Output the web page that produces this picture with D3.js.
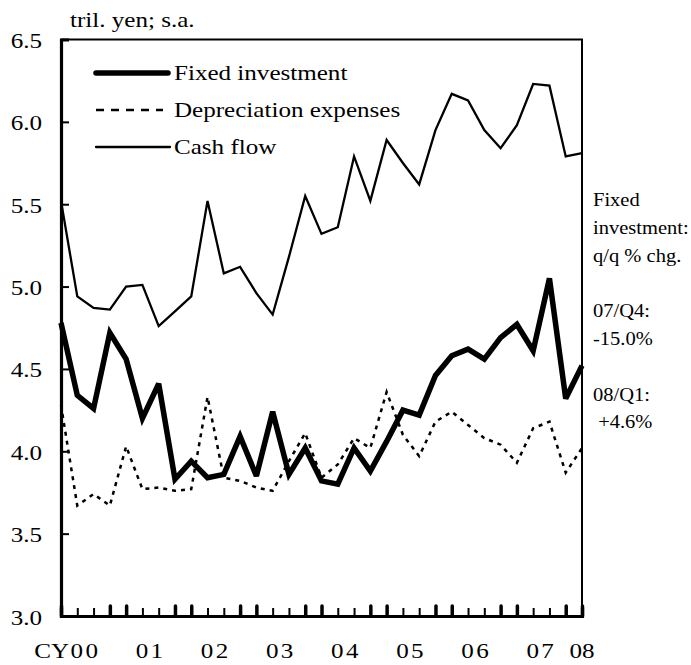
<!DOCTYPE html>
<html>
<head>
<meta charset="utf-8">
<title>Fixed investment, depreciation and cash flow</title>
<script src="https://d3js.org/d3.v7.min.js"></script>
<style>
  body { margin: 0; background: #fff; }
  text { font-family: "Liberation Serif", "Times New Roman", serif; fill: #000; }
</style>
</head>
<body>
<svg id="chart" width="691" height="665"></svg>
<script>
// values (tril. yen, s.a.), 2000/Q1 .. 2008/Q1
var yearLabels = ["00", "01", "02", "03", "04", "05", "06", "07", "08"]
var quarterNames = ["Q1", "Q2", "Q3", "Q4"]
var fixedInvestment = [4.78, 4.34, 4.26, 4.72, 4.56, 4.20, 4.41, 3.83,
                       3.94, 3.84, 3.86, 4.09, 3.85, 4.24, 3.86, 4.02,
                       3.82, 3.80, 4.02, 3.88, 4.06, 4.25, 4.22, 4.46,
                       4.58, 4.62, 4.56, 4.69, 4.77, 4.61, 5.05, 4.32,
                       4.52]
var depreciation = [4.28, 3.67, 3.74, 3.67, 4.03, 3.77, 3.78, 3.76,
                    3.77, 4.33, 3.84, 3.82, 3.78, 3.76, 3.94, 4.11,
                    3.84, 3.92, 4.08, 4.02, 4.36, 4.10, 3.97, 4.18,
                    4.24, 4.16, 4.08, 4.04, 3.93, 4.14, 4.18, 3.87,
                    4.02]
var cashFlow = [5.52, 4.94, 4.87, 4.86, 5.00, 5.01, 4.76, 4.85,
                4.94, 5.52, 5.08, 5.12, 4.96, 4.83, 5.18, 5.55,
                5.32, 5.36, 5.79, 5.52, 5.89, 5.75, 5.62, 5.95,
                6.17, 6.13, 5.95, 5.84, 5.98, 6.23, 6.22, 5.79,
                5.81]
var yTicks = [3.0, 3.5, 4.0, 4.5, 5.0, 5.5, 6.0, 6.5]
var noteLines = ["Fixed", "investment:", "q/q % chg.", "", "07/Q4:", "-15.0%", "", "08/Q1:", " +4.6%"]

// quarter categories: 00Q1 ... 07Q4, 08Q1
var quarters = []
yearLabels.slice(0, 8).forEach(function(yr) {
  quarterNames.forEach(function(q) { quarters.push(yr + q) })
})
quarters.push("08Q1")

var svg = d3.select("#chart")
var plotLeft = 61, plotRight = 582, plotTop = 39.5, plotBottom = 616
var stretch = 1.14   // the reference type is a bit wide

var x = d3.scalePoint().domain(quarters).range([plotLeft, plotRight])
var y = d3.scaleLinear().domain([3, 6.5]).range([plotBottom, plotTop])

// little helper for wide serif text
function label(px, py, s, size, anchor) {
  return svg.append("text")
    .attr("transform", "translate(" + px + "," + py + ") scale(" + stretch + ",1)")
    .attr("text-anchor", anchor || "start")
    .style("font-size", size + "px")
    .text(s)
}

// frame: thin top and right, heavy left and bottom
svg.append("path")
  .attr("d", "M" + plotLeft + "," + plotTop + "H" + plotRight + "V" + plotBottom)
  .attr("fill", "none").attr("stroke", "#000").attr("stroke-width", 2)

// y axis, ticks pointing inward
var yAxis = svg.append("g")
  .attr("transform", "translate(" + plotLeft + ",0)")
  .call(d3.axisLeft(y).tickValues(yTicks).tickSize(-8).tickFormat(d3.format(".1f")))
yAxis.select(".domain").attr("stroke-width", 3.2)
yAxis.selectAll(".tick line").attr("stroke-width", 2)
yAxis.selectAll(".tick text")
  .attr("x", null).attr("dy", null)
  .attr("transform", "translate(-19,8) scale(" + stretch + ",1)")
  .style("font-size", "22px")
  .style("font-family", "Liberation Serif, Times New Roman, serif")

// x axis: every quarter, year-end/year-start ticks drawn heavy
function heavy(d) { return /Q4|Q1/.test(d) }
var xAxis = svg.append("g")
  .attr("transform", "translate(0," + plotBottom + ")")
  .call(d3.axisBottom(x).tickSize(-8).tickFormat(""))
xAxis.select(".domain").attr("stroke-width", 3.2)
xAxis.selectAll(".tick line")
  .attr("stroke-width", function(d) { return heavy(d) ? 3.5 : 2 })
  .attr("y2", function(d) { return heavy(d) ? -10 : -8 })
  .attr("stroke-linecap", function(d) { return heavy(d) ? "round" : "butt" })

// year labels centred on each year
yearLabels.forEach(function(yr) {
  var cx = yr == "08" ? x("08Q1") : (x(yr + "Q2") + x(yr + "Q3")) / 2
  label(cx, 658, yr, 22, "middle").attr("letter-spacing", yr == "08" ? 0 : 2)
})
label(x("00Q1") + 8, 658, "CY", 22, "end")

label(70, 27, "tril. yen; s.a.", 22)

// the three series
var line = d3.line()
  .x(function(d, i) { return x(quarters[i]) })
  .y(function(d) { return y(d) })

svg.append("path").datum(cashFlow)
  .attr("d", line).attr("fill", "none")
  .attr("stroke", "#000").attr("stroke-width", 2.3)

svg.append("path").datum(depreciation)
  .attr("d", line).attr("fill", "none")
  .attr("stroke", "#000").attr("stroke-width", 2.5)
  .attr("stroke-dasharray", "4,5")

svg.append("path").datum(fixedInvestment)
  .attr("d", line).attr("fill", "none")
  .attr("stroke", "#000").attr("stroke-width", 5.5)
  .attr("stroke-linejoin", "miter").attr("stroke-miterlimit", 3)

// legend
var legend = [
  {name: "Fixed investment", w: 5.5, dash: null, y: 73, x2: 168},
  {name: "Depreciation expenses", w: 2.5, dash: "8,7", y: 110, x2: 163},
  {name: "Cash flow", w: 2.3, dash: null, y: 147, x2: 170}
]
legend.forEach(function(l) {
  svg.append("line")
    .attr("x1", 96).attr("x2", l.x2).attr("y1", l.y).attr("y2", l.y)
    .attr("stroke", "#000").attr("stroke-width", l.w)
    .attr("stroke-linecap", l.dash ? "butt" : "round")
    .attr("stroke-dasharray", l.dash)
  label(174, l.y + 7, l.name, 22)
})

// note on the right
noteLines.forEach(function(s, i) {
  if (s) label(593, 206 + i * 27.8, s, 18).style("white-space", "pre")
})
</script>
</body>
</html>
